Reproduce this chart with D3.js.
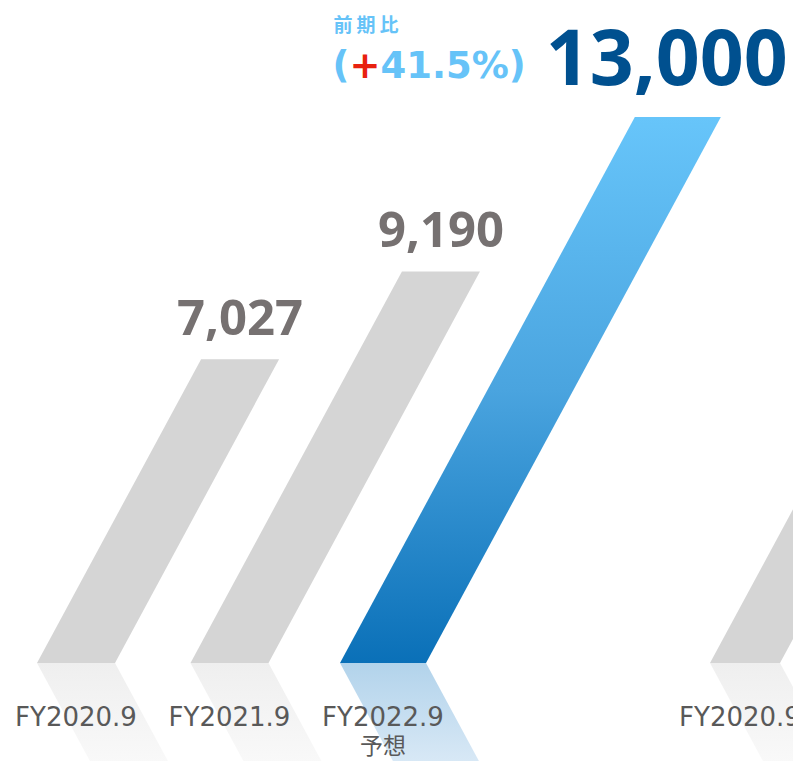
<!DOCTYPE html>
<html>
<head>
<meta charset="utf-8">
<script src="https://cdn.jsdelivr.net/npm/d3@7"></script>
<style>
body { margin: 0; background: #fff; }
</style>
</head>
<body>
<div id="chart"></div>
<script>
// data
var categories = ["FY2020.9", "FY2021.9", "FY2022.9"];
var values = [7027, 9190, 13000];
var subLabels = ["", "", "予想"];
var growthTitle = "前期比";
var growthRate = "41.5%";
// next panel of the slide, cut off at the right edge
var nextCategories = ["FY2020.9"];
var nextValues = [4500];

var width = 793, height = 761;
var base = 663;      // bottom of the bars
var slant = 0.54;    // horizontal shift per px of height
var reflH = 130;

var svg = d3.select("#chart")
    .append("svg")
    .attr("width", width)
    .attr("height", height);

var defs = svg.append("defs");
function grad(id, stops) {
    var g = defs.append("linearGradient").attr("id", id)
        .attr("x1", 0).attr("y1", 0).attr("x2", 0).attr("y2", 1);
    stops.forEach(function(s) {
        g.append("stop").attr("offset", s[0]).attr("stop-color", s[1]);
    });
}
grad("blueBar", [[0, "#67c5fa"], [0.5, "#4aa4df"], [1, "#0a70b8"]]);
grad("blueRefl", [[0, "#b2d3eb"], [1, "#e4eff9"]]);
grad("greyRefl", [[0, "#efefef"], [1, "#fcfcfc"]]);

var x = d3.scalePoint().domain(categories).range([76, 383]);
var y = d3.scaleLinear().domain([0, 13000]).range([644, 117]);

function barPoints(cx, w, top) {
    var dx = (base - top) * slant;
    return [[cx - w / 2, base], [cx + w / 2, base],
            [cx + w / 2 + dx, top], [cx - w / 2 + dx, top]];
}
function reflPoints(cx, w) {
    var dx = reflH * slant;
    return [[cx - w / 2, base], [cx + w / 2, base],
            [cx + w / 2 + dx, base + reflH], [cx - w / 2 + dx, base + reflH]];
}
var line = d3.line();

var data = categories.map(function(c, i) {
    return {cat: c, value: values[i], sub: subLabels[i], hi: i == categories.length - 1};
});

// reflections
svg.selectAll(".refl")
    .data(data)
    .enter()
    .append("path")
    .attr("class", "refl")
    .attr("d", function(d) { return line(reflPoints(x(d.cat), d.hi ? 86 : 78)) + "Z"; })
    .style("fill", function(d) { return d.hi ? "url(#blueRefl)" : "url(#greyRefl)"; });

// bars
svg.selectAll(".bar")
    .data(data)
    .enter()
    .append("path")
    .attr("class", "bar")
    .attr("d", function(d) { return line(barPoints(x(d.cat), d.hi ? 86 : 78, y(d.value))) + "Z"; })
    .style("fill", function(d) { return d.hi ? "url(#blueBar)" : "#d5d5d5"; });

// value labels
var valLabels = svg.selectAll(".val")
    .data(data)
    .enter()
    .append("text")
    .attr("class", "val")
    .attr("x", function(d) { return x(d.cat) + (base - y(d.value)) * slant - (d.hi ? 11 : 0); })
    .attr("y", function(d) { return y(d.value) - (d.hi ? 32 : 24); })
    .attr("text-anchor", "middle")
    .style("font-family", "'Noto Sans', sans-serif")
    .style("font-weight", "bold")
    .style("font-size", function(d) { return d.hi ? "77px" : "49px"; })
    .style("fill", function(d) { return d.hi ? "#00508f" : "#767171"; })
    .text(function(d) { return d3.format(",")(d.value); });

// category labels
svg.selectAll(".cat")
    .data(data)
    .enter()
    .append("text")
    .attr("class", "cat")
    .attr("x", function(d) { return x(d.cat); })
    .attr("y", 726)
    .attr("text-anchor", "middle")
    .style("font-family", "'DejaVu Sans', sans-serif")
    .style("font-size", "26px")
    .style("fill", "#595959")
    .text(function(d) { return d.cat; });

svg.selectAll(".sub")
    .data(data.filter(function(d) { return d.sub != ""; }))
    .enter()
    .append("text")
    .attr("class", "sub")
    .attr("x", function(d) { return x(d.cat); })
    .attr("y", 754)
    .attr("text-anchor", "middle")
    .style("font-family", "'Noto Sans CJK JP', sans-serif")
    .style("font-size", "23px")
    .style("fill", "#595959")
    .text(function(d) { return d.sub; });

// growth annotation left of the highlighted value
var hiNode = valLabels.filter(function(d) { return d.hi; }).node();
var bb = hiNode.getBBox();
var gx = bb.x - 20;

var pct = svg.append("text")
    .attr("x", gx)
    .attr("y", 78)
    .attr("text-anchor", "end")
    .style("font-family", "'DejaVu Sans', sans-serif")
    .style("font-weight", "bold")
    .style("font-size", "37px")
    .style("fill", "#66c3f8");
pct.append("tspan").text("(");
pct.append("tspan").style("fill", "#e8210f").text("+");
pct.append("tspan").text(growthRate + ")");

var pb = pct.node().getBBox();
svg.append("text")
    .attr("x", pb.x + 1)
    .attr("y", 32)
    .style("font-family", "'Noto Sans CJK JP', sans-serif")
    .style("font-weight", "bold")
    .style("font-size", "19px")
    .style("letter-spacing", "4px")
    .style("fill", "#66c3f8")
    .text(growthTitle);

// next panel (cropped)
var x2 = d3.scalePoint().domain(nextCategories).range([745, 745]);
var nextData = nextCategories.map(function(c, i) { return {cat: c, value: nextValues[i]}; });

svg.selectAll(".nrefl")
    .data(nextData)
    .enter()
    .append("path")
    .attr("d", function(d) { return line(reflPoints(x2(d.cat), 70)) + "Z"; })
    .style("fill", "url(#greyRefl)");

svg.selectAll(".nbar")
    .data(nextData)
    .enter()
    .append("path")
    .attr("d", function(d) { return line(barPoints(x2(d.cat), 70, y(d.value))) + "Z"; })
    .style("fill", "#d5d5d5");

svg.selectAll(".ncat")
    .data(nextData)
    .enter()
    .append("text")
    .attr("x", function(d) { return x2(d.cat) - 5; })
    .attr("y", 726)
    .attr("text-anchor", "middle")
    .style("font-family", "'DejaVu Sans', sans-serif")
    .style("font-size", "26px")
    .style("fill", "#595959")
    .text(function(d) { return d.cat; });
</script>
</body>
</html>
